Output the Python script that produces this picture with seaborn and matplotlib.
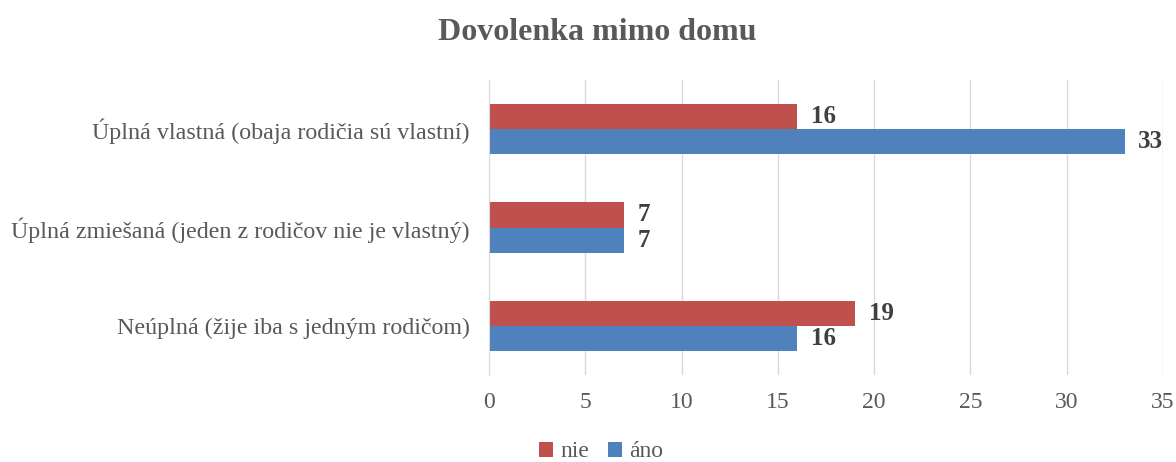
import pandas as pd
import matplotlib.pyplot as plt
import seaborn as sns

categories = ["Úplná vlastná (obaja rodičia sú vlastní)",
              "Úplná zmiešaná (jeden z rodičov nie je vlastný)",
              "Neúplná (žije iba s jedným rodičom)"]
nie = [16, 7, 19]
ano = [33, 7, 16]
series = ["nie", "áno"]

df = pd.DataFrame({
    "kategoria": categories * 2,
    "hodnota": nie + ano,
    "odpoved": ["nie"] * 3 + ["áno"] * 3,
})

sns.set_style("white")
plt.rcParams["font.family"] = ["Liberation Serif", "DejaVu Serif"]
text_col = "#595959"

fig = plt.figure(figsize=(11.76, 4.62), dpi=100)
ax = fig.add_axes([0.4158, 0.188, 0.5732, 0.639])

sns.barplot(data=df, y="kategoria", x="hodnota", hue="odpoved", hue_order=series,
            order=categories, palette={"nie": "#C0504D", "áno": "#4F81BD"},
            orient="h", width=0.51, saturation=1, linewidth=0, ax=ax, legend=True)

for cont in ax.containers:
    ax.bar_label(cont, padding=10, fontsize=18, fontweight="bold", color="#404040")

ax.set_xlim(0, 35)
ax.set_xticks(range(0, 36, 5))
ax.xaxis.grid(True, color="#D9D9D9", linewidth=1)
ax.set_axisbelow(True)
for s in ["top", "right", "bottom"]:
    ax.spines[s].set_visible(False)
ax.spines["left"].set_color("#D9D9D9")
ax.tick_params(axis="both", length=0, labelsize=17, colors=text_col)
ax.tick_params(axis="y", labelsize=17.3, pad=14)
ax.tick_params(axis="x", pad=12)
ax.set_xlabel("")
ax.set_ylabel("")

ax.legend(loc="center", bbox_to_anchor=(0.511, 0.022), bbox_transform=fig.transFigure,
          ncol=2, frameon=False, fontsize=17, handlelength=0.6, handleheight=0.6,
          handletextpad=0.3, columnspacing=0.8, labelcolor=text_col)

fig.suptitle("Dovolenka mimo domu", x=0.508, y=0.96, fontsize=23, fontweight="bold", color=text_col)

fig.savefig("out.png", dpi=100)
